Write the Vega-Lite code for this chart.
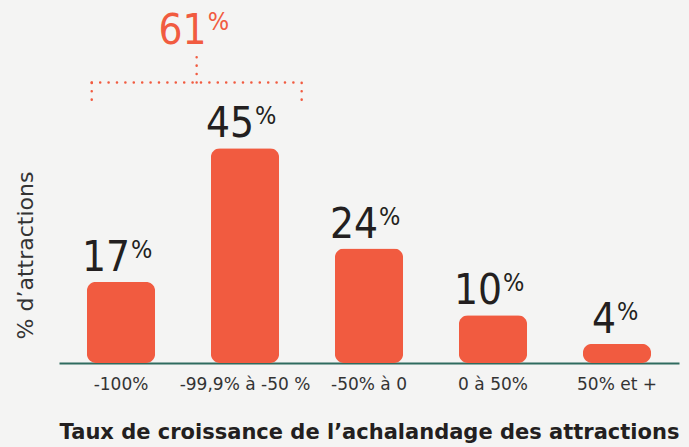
{
  "$schema": "https://vega.github.io/schema/vega-lite/v6.json",
  "width": 620,
  "height": 353,
  "autosize": {"type": "none"},
  "padding": {"left": 59, "top": 10, "right": 10, "bottom": 84},
  "background": "#F4F4F3",
  "config": {"view": {"stroke": null}},
  "resolve": {"scale": {"x": "independent"}},
  "layer": [
    {
      "data": {"values": [
        {"cat": "-100%", "value": 17},
        {"cat": "-99,9% à -50 %", "value": 45},
        {"cat": "-50% à 0", "value": 24},
        {"cat": "0 à 50%", "value": 10},
        {"cat": "50% et +", "value": 4}
      ]},
      "encoding": {
        "x": {"field": "cat", "type": "nominal", "sort": null,
          "scale": {"paddingInner": 0.45, "paddingOuter": 0.225},
          "axis": {"title": "Taux de croissance de l’achalandage des attractions",
            "domainColor": "#2F6B5F", "domainWidth": 2, "ticks": false, "grid": false,
            "labelAngle": 0, "labelFont": "DejaVu Sans", "labelFontSize": 17, "labelColor": "#333333",
            "labelPadding": 13,
            "titleFont": "DejaVu Sans", "titleFontSize": 21, "titleFontWeight": "bold", "titleColor": "#231F20",
            "titleY": 75, "titleBaseline": "alphabetic"}},
        "y": {"field": "value", "type": "quantitative",
          "scale": {"domain": [0, 74], "nice": false},
          "axis": {"title": "% d’attractions", "domain": false, "ticks": false, "labels": false, "grid": false,
            "titleFont": "DejaVu Sans", "titleFontSize": 22, "titleFontWeight": "normal", "titleColor": "#333333",
            "titleAngle": -90, "titleX": -27, "titleY": 245, "titleAlign": "center", "titleBaseline": "alphabetic"}}
      },
      "layer": [
        {"mark": {"type": "bar", "cornerRadius": 9, "color": "#F15B40"}},
        {"transform": [{"filter": "datum.value >= 10"}],
         "mark": {"type": "text", "align": "right", "baseline": "alphabetic", "dx": 9, "dy": -11,
           "font": "DejaVu Sans Condensed", "fontSize": 42, "color": "#231F20"},
         "encoding": {"text": {"field": "value", "type": "quantitative"}}},
        {"transform": [{"filter": "datum.value >= 10"}],
         "mark": {"type": "text", "align": "left", "baseline": "alphabetic", "dx": 10, "dy": -24, "text": "%",
           "font": "DejaVu Sans Condensed", "fontSize": 25, "color": "#231F20"}},
        {"transform": [{"filter": "datum.value < 10"}],
         "mark": {"type": "text", "align": "right", "baseline": "alphabetic", "dx": -1, "dy": -11,
           "font": "DejaVu Sans Condensed", "fontSize": 42, "color": "#231F20"},
         "encoding": {"text": {"field": "value", "type": "quantitative"}}},
        {"transform": [{"filter": "datum.value < 10"}],
         "mark": {"type": "text", "align": "left", "baseline": "alphabetic", "dx": 0, "dy": -24, "text": "%",
           "font": "DejaVu Sans Condensed", "fontSize": 25, "color": "#231F20"}}
      ]
    },
    {
      "data": {"values": [
        {"px": 0.264, "px2": 1.957, "value": 58.8, "value2": 58.8},
        {"px": 0.264, "px2": 0.264, "value": 55.2, "value2": 58.8},
        {"px": 1.957, "px2": 1.957, "value": 55.2, "value2": 58.8},
        {"px": 1.11, "px2": 1.11, "value": 58.8, "value2": 64.2}
      ]},
      "mark": {"type": "rule", "color": "#F15B40", "strokeWidth": 2.5, "strokeDash": [0.1, 8.3], "strokeCap": "round"},
      "encoding": {
        "x": {"field": "px", "type": "quantitative", "scale": {"domain": [0, 5], "nice": false}, "axis": null},
        "x2": {"field": "px2"},
        "y": {"field": "value", "type": "quantitative"},
        "y2": {"field": "value2"}
      }
    },
    {
      "data": {"values": [{"px": 1.11, "value": 66.9, "label": "61"}]},
      "encoding": {
        "x": {"field": "px", "type": "quantitative", "scale": {"domain": [0, 5], "nice": false}, "axis": null},
        "y": {"field": "value", "type": "quantitative"}
      },
      "layer": [
        {"mark": {"type": "text", "align": "right", "baseline": "alphabetic", "dx": 10,
           "font": "DejaVu Sans Condensed", "fontSize": 42, "color": "#F15B40"},
         "encoding": {"text": {"field": "label", "type": "nominal"}}},
        {"mark": {"type": "text", "align": "left", "baseline": "alphabetic", "dx": 11, "dy": -14, "text": "%",
           "font": "DejaVu Sans Condensed", "fontSize": 25, "color": "#F15B40"}}
      ]
    }
  ]
}
